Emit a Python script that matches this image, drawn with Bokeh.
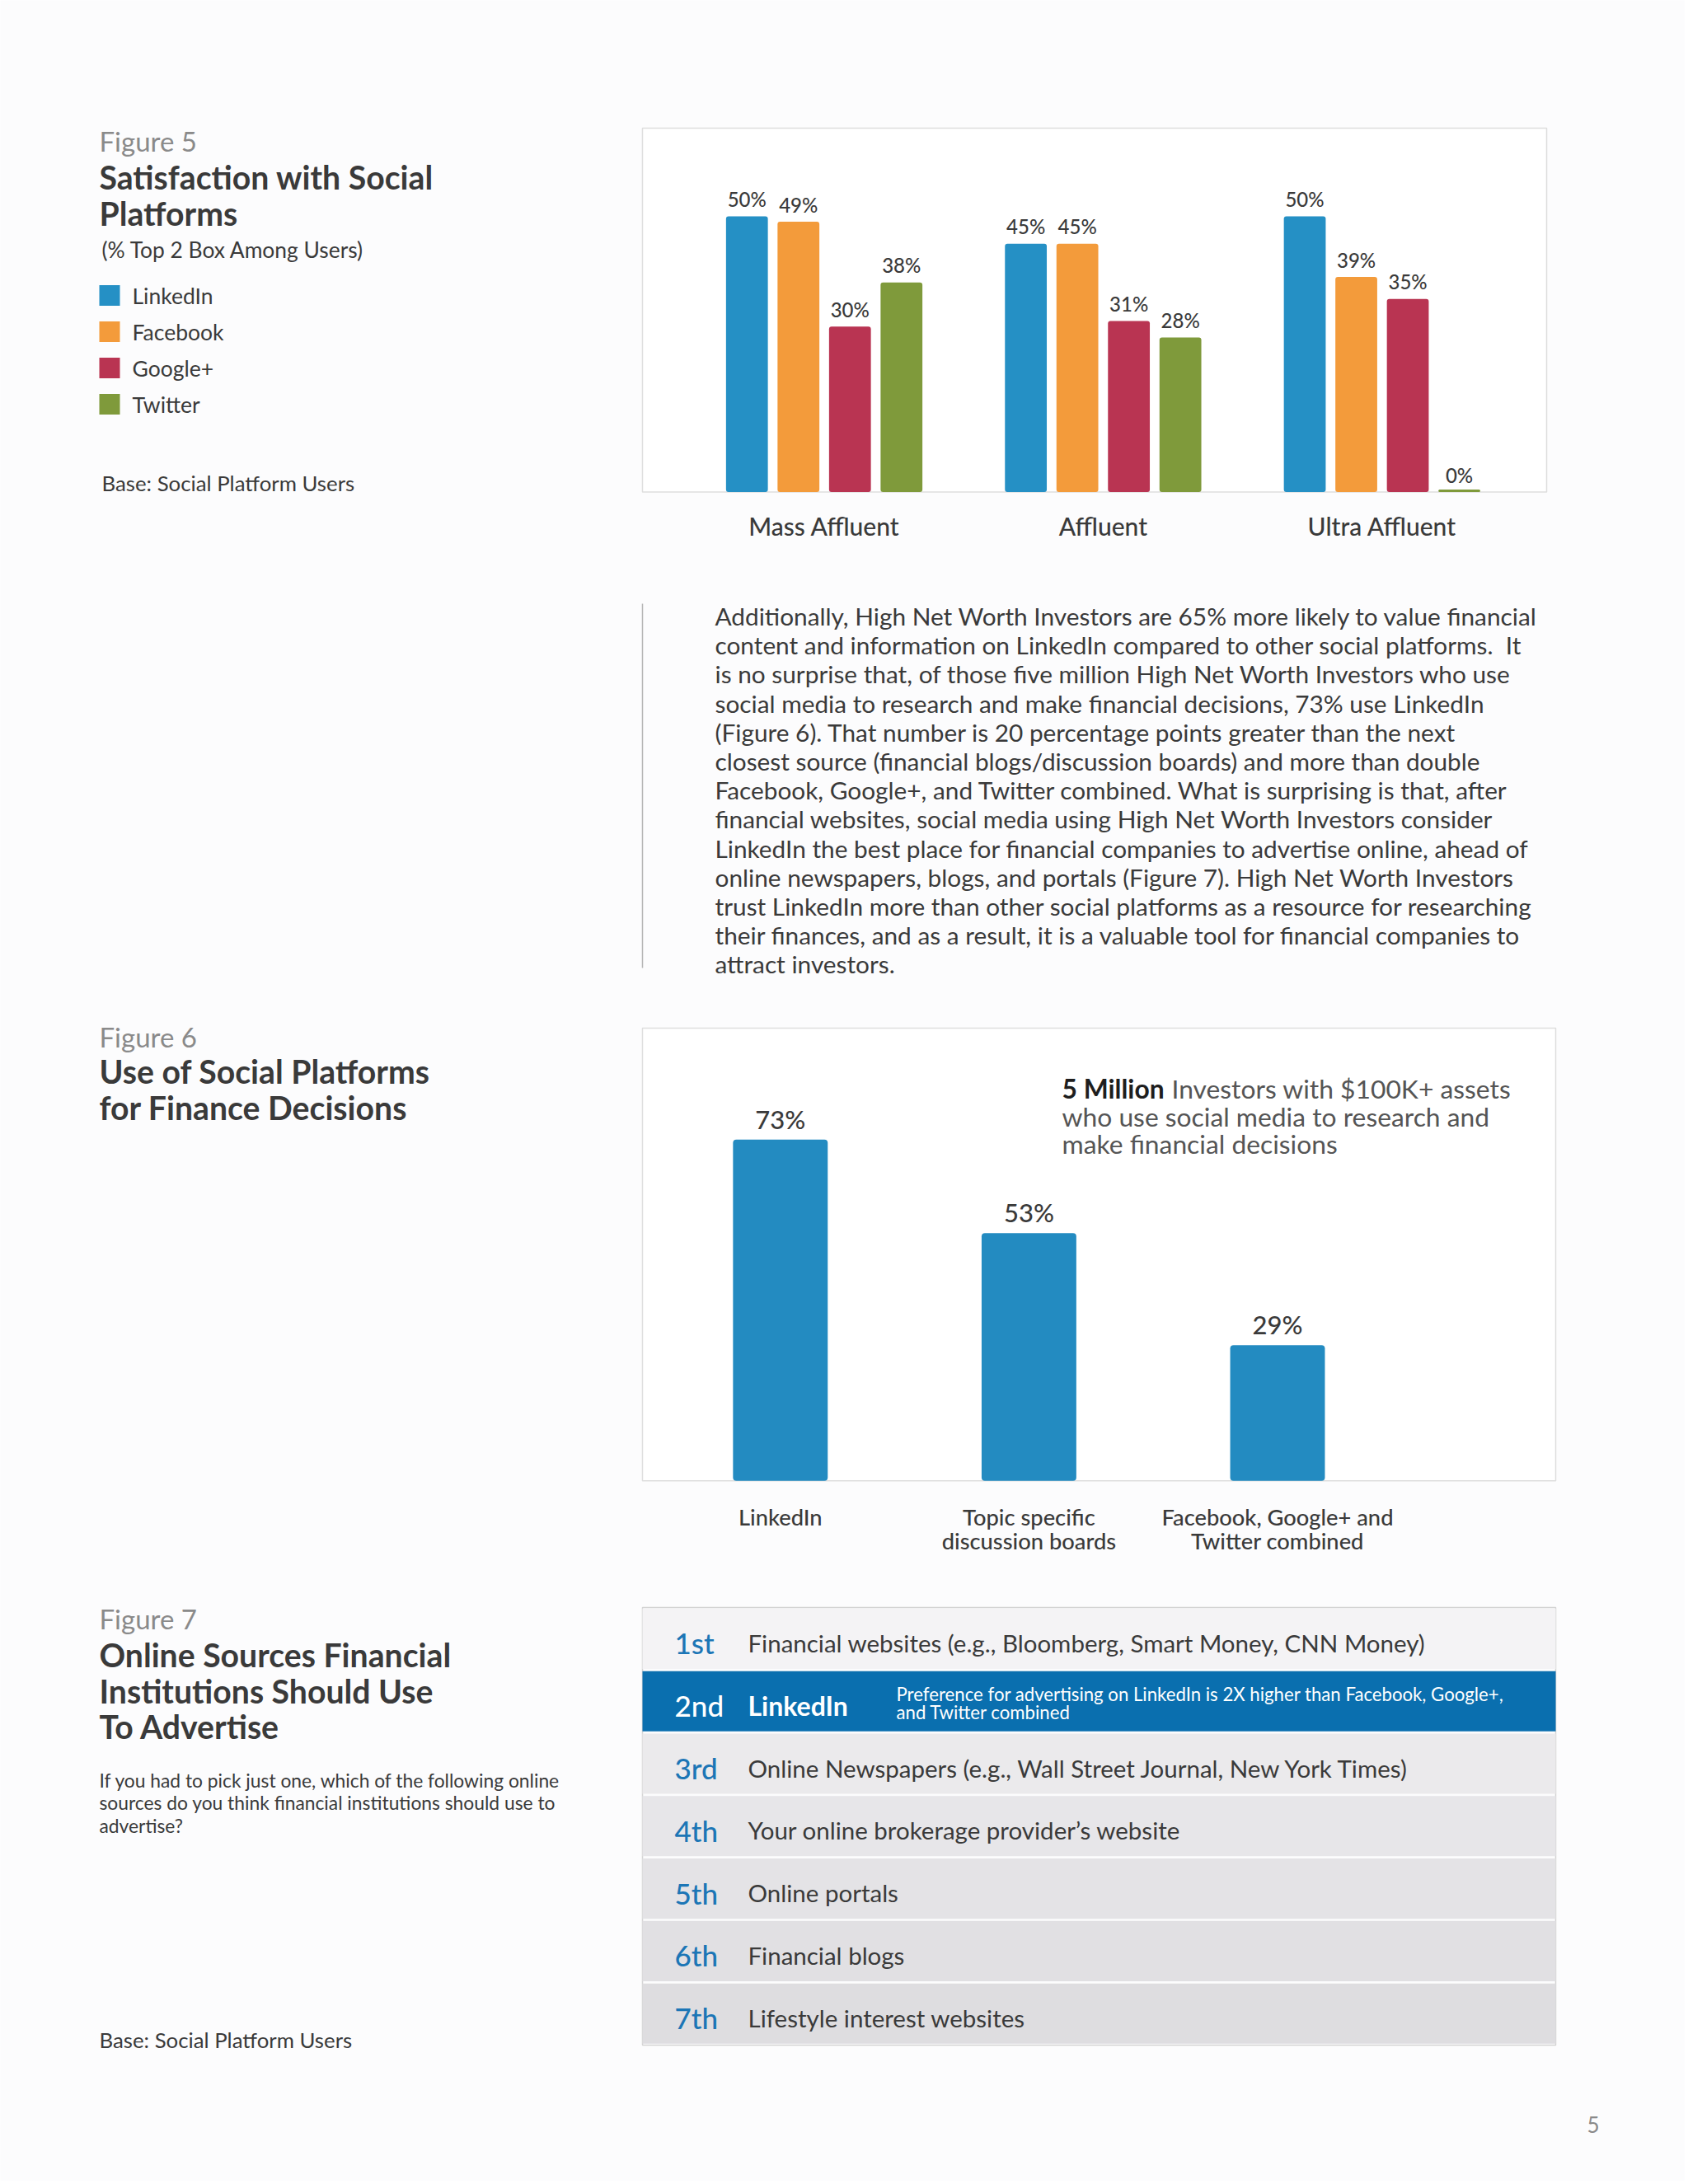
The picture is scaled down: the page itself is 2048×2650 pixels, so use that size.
from bokeh.plotting import figure
from bokeh.models import Range1d, ColumnDataSource
from bokeh.core.properties import value
from bokeh.transform import dodge
from bokeh.embed import file_html
from bokeh.resources import INLINE

# ---------------- data ----------------
f5_groups = ["Mass Affluent", "Affluent", "Ultra Affluent"]
f5_platforms = ["LinkedIn", "Facebook", "Google+", "Twitter"]
f5_linkedin = [50, 45, 50]
f5_facebook = [49, 45, 39]
f5_google = [30, 31, 35]
f5_twitter = [38, 28, 0]

f6_categories = ["LinkedIn", "Topic specific\ndiscussion boards",
                 "Facebook, Google+ and\nTwitter combined"]
f6_values = [73, 53, 29]

f7_ranks = ["1st", "2nd", "3rd", "4th", "5th", "6th", "7th"]
f7_sources = ["Financial websites (e.g., Bloomberg, Smart Money, CNN Money)",
              "LinkedIn",
              "Online Newspapers (e.g., Wall Street Journal, New York Times)",
              "Your online brokerage provider\u2019s website",
              "Online portals",
              "Financial blogs",
              "Lifestyle interest websites"]
f7_note = ["Preference for advertising on LinkedIn is 2X higher than Facebook, Google+,",
           "and Twitter combined"]

paragraph = [
    "Additionally, High Net Worth Investors are 65% more likely to value financial",
    "content and information on LinkedIn compared to other social platforms.\u00a0 It",
    "is no surprise that, of those five million High Net Worth Investors who use",
    "social media to research and make financial decisions, 73% use LinkedIn",
    "(Figure 6). That number is 20 percentage points greater than the next",
    "closest source (financial blogs/discussion boards) and more than double",
    "Facebook, Google+, and Twitter combined. What is surprising is that, after",
    "financial websites, social media using High Net Worth Investors consider",
    "LinkedIn the best place for financial companies to advertise online, ahead of",
    "online newspapers, blogs, and portals (Figure 7). High Net Worth Investors",
    "trust LinkedIn more than other social platforms as a resource for researching",
    "their finances, and as a result, it is a valuable tool for financial companies to",
    "attract investors.",
]

# ---------------- styles ----------------
FONT = "Lato"
MED = "Lato Medium"
BG = "#fcfcfd"
DARK = "#3a3a3a"
GREY = "#8a8a8a"
BLUE_TXT = "#1c76b6"
W, H = 2044, 2646
X0, Y0 = 0, 0


def frame_range(lo_px, hi_px, px_a, v_a, px_b, v_b):
    k = (v_b - v_a) / (px_b - px_a)
    return Range1d(start=v_a + (lo_px - px_a) * k, end=v_a + (hi_px - px_a) * k)


p = figure(width=W, height=H, x_range=Range1d(X0, X0 + W), y_range=Range1d(Y0 + H, Y0),
           output_backend="svg", toolbar_location=None, x_axis_type=None, y_axis_type=None,
           min_border=0, outline_line_color=None, background_fill_color=BG,
           border_fill_color=BG)
p.grid.visible = False

p.extra_x_ranges = {
    "f5x": frame_range(X0, X0 + W, 999.5, 0, 1337.9, 1),
    "f6x": frame_range(X0, X0 + W, 946.3, 0, 1247.9, 1),
}
p.extra_y_ranges = {
    "f5y": frame_range(Y0 + H, Y0, 596.5, 0, 261.9, 50),
    "f6y": frame_range(Y0 + H, Y0, 1796.2, 0, 1382.3, 73),
    "f7y": frame_range(Y0 + H, Y0, 1987.9, 0, 2063.7, 1),
}


def txt(x, y, s, size, color, style="normal", align="left", font=FONT, **kw):
    p.text(x=[x], y=[y], text=[s], text_font=value(font), text_font_size=f"{size}px",
           text_color=color, text_font_style=style, text_align=align,
           text_baseline="middle", **kw)


# ================= Figure 5 =================
txt(120, 170, "Figure 5", 33, GREY)
txt(120, 214, "Satisfaction with Social", 39.2, DARK, "bold")
txt(120, 258, "Platforms", 39.2, DARK, "bold")
txt(123, 302, "(% Top 2 Box Among Users)", 26.4, DARK)
txt(123, 585, "Base: Social Platform Users", 25.8, DARK)

f5_series = [f5_linkedin, f5_facebook, f5_google, f5_twitter]
f5_colors = ["#2590c5", "#f39b3b", "#b93452", "#7f9a3b"]
leg_y = [358, 402, 446, 490]
p.rect(x=[132.5] * 4, y=leg_y, width=25, height=25, fill_color=f5_colors, line_color=None)
for yy, name in zip(leg_y, f5_platforms):
    txt(160, yy, name, 26.5, DARK)

# chart frame
p.quad(left=[779], right=[1876], top=[155], bottom=[596.5], fill_color="white",
       line_color="#dedede", line_width=1.5)

step = 0.1847
for j, (vals, col) in enumerate(zip(f5_series, f5_colors)):
    off = (j - 1.5) * step
    src = ColumnDataSource(dict(gi=list(range(len(f5_groups))), v=vals,
                                vis=[max(v, 0.45) for v in vals],
                                lbl=[f"{v}%" for v in vals]))
    p.vbar(x=dodge("gi", off), top="vis", bottom=0, width=0.15, source=src,
           x_range_name="f5x", y_range_name="f5y", fill_color=col, line_color=None,
           border_radius=3)
    p.text(x=dodge("gi", off), y="v", text="lbl", source=src, x_range_name="f5x",
           y_range_name="f5y", y_offset=-21, text_align="center", text_baseline="middle",
           text_font=value(MED), text_font_size="24px", text_color=DARK)

p.text(x=list(range(len(f5_groups))), y=[0] * 3, text=f5_groups, x_range_name="f5x",
       y_range_name="f5y", y_offset=41, text_align="center", text_baseline="middle",
       text_font=value(MED), text_font_size="30px", text_color=DARK)

# ================= paragraph =================
p.segment(x0=[779], y0=[732], x1=[779], y1=[1174], line_color="#b5b5b5", line_width=1.5)
for i, line in enumerate(paragraph):
    txt(867, 747 + 35.2 * i, line, 29.8, DARK)

# ================= Figure 6 =================
txt(120, 1257, "Figure 6", 33, GREY)
txt(120, 1299, "Use of Social Platforms", 39.2, DARK, "bold")
txt(120, 1343, "for Finance Decisions", 39.2, DARK, "bold")

p.quad(left=[779], right=[1887], top=[1247], bottom=[1796.2], fill_color="white",
       line_color="#dedede", line_width=1.5)
src6 = ColumnDataSource(dict(i=list(range(len(f6_values))), v=f6_values,
                             lbl=[f"{v}%" for v in f6_values]))
p.vbar(x="i", top="v", bottom=0, width=0.381, source=src6, x_range_name="f6x",
       y_range_name="f6y", fill_color="#238bc1", line_color=None, border_radius=4)
p.text(x="i", y="v", text="lbl", source=src6, x_range_name="f6x", y_range_name="f6y",
       y_offset=-25, text_align="center", text_baseline="middle", text_font=value(MED),
       text_font_size="31px", text_color=DARK)
for i, cat in enumerate(f6_categories):
    for k, part in enumerate(cat.split("\n")):
        p.text(x=[i], y=[0], text=[part], x_range_name="f6x", y_range_name="f6y",
               y_offset=44 + 29 * k, text_align="center", text_baseline="middle",
               text_font=value(MED), text_font_size="27.3px", text_color=DARK)

txt(1288, 1320, "5 Million", 31.8, "#1e1e1e", "bold")
txt(1421, 1320, "Investors with $100K+ assets", 31.8, "#555555")
txt(1288, 1354, "who use social media to research and", 31.8, "#555555")
txt(1288, 1387, "make financial decisions", 31.8, "#555555")

# ================= Figure 7 =================
txt(120, 1963, "Figure 7", 33, GREY)
txt(120, 2007, "Online Sources Financial", 39.2, DARK, "bold")
txt(120, 2051, "Institutions Should Use", 39.2, DARK, "bold")
txt(120, 2094, "To Advertise", 39.2, DARK, "bold")
question = ["If you had to pick just one, which of the following online",
            "sources do you think financial institutions should use to",
            "advertise?"]
for k, q in enumerate(question):
    txt(120, 2159 + 27.5 * k, q, 22.8, DARK)
txt(120, 2474, "Base: Social Platform Users", 25.8, DARK)

row_fill = ["#f4f3f5", "#0a6faf", "#ebeaec", "#e7e6e9", "#e4e3e6", "#e1e0e3", "#dedde0"]
rank_col = [BLUE_TXT, "white"] + [BLUE_TXT] * 5
src_col = [DARK, "white"] + [DARK] * 5
rows = list(range(len(f7_ranks)))
p.quad(left=[779], right=[1887], top=[1950], bottom=[2481], fill_color=None,
       line_color="#d4d4d4", line_width=1.5)
src7 = ColumnDataSource(dict(r=rows, fill=row_fill, rank=f7_ranks, src=f7_sources,
                             rc=rank_col, sc=src_col))
p.rect(x=1333, y="r", width=1108, height=0.965, source=src7, y_range_name="f7y",
       fill_color="fill", line_color=None)
p.text(x=818, y="r", text="rank", source=src7, y_range_name="f7y", y_offset=5,
       text_align="left", text_baseline="middle", text_font=value(MED),
       text_font_size="35px", text_color="rc")
for r in rows:
    bold = (r == 1)
    p.text(x=[907], y=[r], text=[f7_sources[r]], y_range_name="f7y", y_offset=5,
           text_align="left", text_baseline="middle", text_font=value(FONT),
           text_font_size="32px" if bold else "29.5px",
           text_font_style="bold" if bold else "normal", text_color=src_col[r])
for k, line in enumerate(f7_note):
    p.text(x=[1087], y=[1], text=[line], y_range_name="f7y", y_offset=-9 + 22 * k,
           text_align="left", text_baseline="middle", text_font=value(FONT),
           text_font_size="22.2px", text_color="white")

# page number
txt(1925, 2577, "5", 26, "#8a8a8a")

open("out.html", "w").write(file_html(p, INLINE))
